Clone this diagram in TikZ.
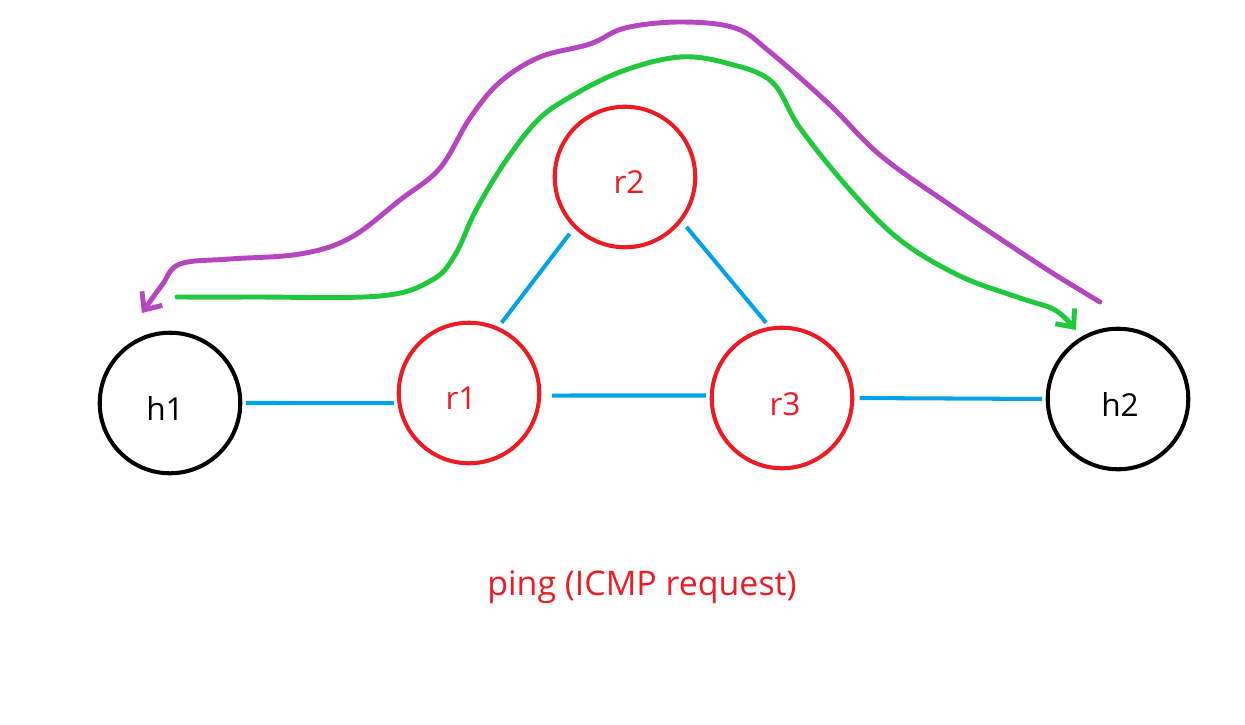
\documentclass[tikz,border=0pt]{standalone}
\usepackage{fontspec}
\setmainfont{Open Sans}
\usetikzlibrary{arrows.meta}
\definecolor{nred}{HTML}{ED1C24}
\definecolor{nblue}{HTML}{00A2E8}
\definecolor{npurple}{HTML}{B546C0}
\definecolor{ngreen}{HTML}{1FC83C}
\tikzset{
  host/.style={circle,draw=black,line width=2.3pt,minimum size=80pt,inner sep=0pt},
  router/.style={circle,draw=nred,line width=2.3pt,minimum size=80pt,inner sep=0pt},
  hlbl/.style={font=\fontsize{18}{21}\selectfont,text=black,inner sep=0pt},
  rlbl/.style={font=\fontsize{18}{21}\selectfont,text=nred,inner sep=0pt},
  link/.style={draw=nblue,line width=2.3pt,shorten >=2pt,shorten <=2pt},
  path1/.style={draw=npurple,line width=2.8pt,line cap=round,line join=round,-{Straight Barb[length=8pt,width=14pt,line width=2.8pt]}},
  path2/.style={draw=ngreen,line width=2.8pt,line cap=round,line join=round,-{Straight Barb[length=8pt,width=14pt,line width=2.8pt]}},
  caption/.style={font=\fontsize{19.3}{23}\selectfont,text=nred}
}
\begin{document}
\begin{tikzpicture}[x=0.02cm,y=-0.02cm]
\useasboundingbox (0,0) rectangle (1245,724);
\fill[white] (0,0) rectangle (1245,724);
\node[host] (h1) at (170,403) {};
\node[router] (r1) at (469,393) {};
\node[router] (r2) at (625,177) {};
\node[router] (r3) at (782,398) {};
\node[host] (h2) at (1118,399) {};
\node[hlbl] (h1t) at (165,408) {h1};
\node[rlbl] (r1t) at (461,398) {r1};
\node[rlbl] (r2t) at (629,182) {r2};
\node[rlbl] (r3t) at (785,404) {r3};
\node[hlbl] (h2t) at (1120,404) {h2};
\draw[link] (h1.east) -- (r1.188);
\draw[link,shorten <=6pt,shorten >=2pt] (r1.-2) -- (r3.178);
\draw[link,shorten <=3pt,shorten >=4pt] (r1.66) -- (r2.225);
\draw[link,shorten <=4pt,shorten >=3pt] (r2.-38) -- (r3.100);
\draw[link,shorten <=3pt] (r3.east) -- (h2.west);
\coordinate (ps) at (1100,302);
\coordinate (pe) at (142,313);
\coordinate (gs) at (177,297);
\coordinate (ge) at (1076,330);
\draw[path1] plot[smooth,tension=0.6] coordinates {(ps) (1085,293) (1040,265) (950,205) (880,155) (830,105) (770,52) (735,28) (680,22) (625,28) (590,44) (540,57) (500,82) (470,118) (440,168) (400,200) (350,238) (300,254) (230,259) (180,264) (162,285) (pe)};
\draw[path2] plot[smooth,tension=0.6] coordinates {(gs) (250,297) (380,296) (432,280) (455,255) (475,212) (503,165) (535,123) (565,100) (620,72) (680,57) (730,64) (772,82) (800,128) (850,190) (900,240) (960,276) (1020,298) (1055,310) (ge)};
\node[caption] (cap) at (642,587) {ping (ICMP request)};
\end{tikzpicture}
\end{document}
